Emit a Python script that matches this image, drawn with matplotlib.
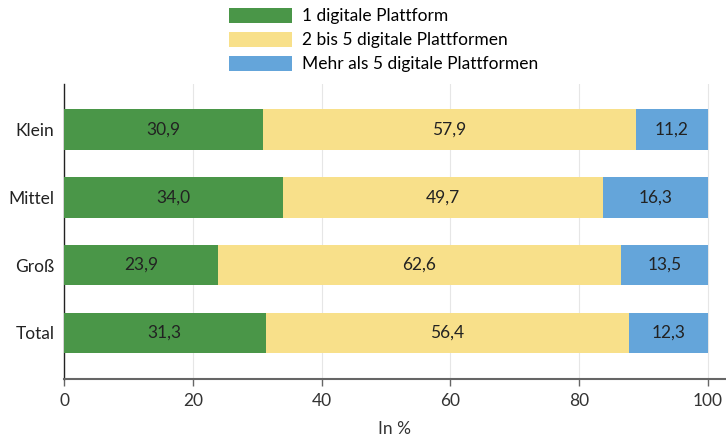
import matplotlib
matplotlib.use("Agg")
import matplotlib.pyplot as plt
import numpy as np

categories = ["Klein", "Mittel", "Groß", "Total"]
series_names = ["1 digitale Plattform", "2 bis 5 digitale Plattformen", "Mehr als 5 digitale Plattformen"]
s1 = [30.9, 34.0, 23.9, 31.3]
s2 = [57.9, 49.7, 62.6, 56.4]
s3 = [11.2, 16.3, 13.5, 12.3]
xticks = [0, 20, 40, 60, 80, 100]
colors = ["#4A9648", "#F8E08A", "#64A5DA"]

FS = 12.5
plt.rcParams['font.family'] = ['Lato', 'DejaVu Sans']
fig = plt.figure(figsize=(7.26, 4.41), dpi=100)
ax = fig.add_axes([64/726, 62/441, (726-64)/726, (379-84)/441])

y = np.arange(len(categories))
left = np.zeros(len(categories))
handles = []
for vals, name, c in zip([s1, s2, s3], series_names, colors):
    b = ax.barh(y, vals, left=left, height=0.6, color=c, label=name, zorder=3,
                linewidth=0)
    handles.append(b)
    for yi, l, v in zip(y, left, vals):
        ax.text(l + v/2, yi, f"{v:.1f}".replace(".", ","), ha="center", va="center",
                fontsize=FS, color="#222222", zorder=4)
    left = left + np.array(vals)

ax.set_ylim(3.68, -0.67)
ax.set_xlim(0, 102.8)
ax.set_yticks(y)
ax.set_yticklabels(categories, fontsize=FS, color="#222222")
ax.set_xticks(xticks)
ax.set_xticklabels([str(t) for t in xticks], fontsize=FS, color="#333333")
ax.tick_params(axis="y", length=0, pad=7)
ax.tick_params(axis="x", length=5, color="#666666", width=1, pad=5)
ax.grid(axis="x", color="#e6e6e6", linewidth=0.8, zorder=0)
for s in ["top", "right"]:
    ax.spines[s].set_visible(False)
ax.spines["left"].set_color("#222222")
ax.spines["left"].set_linewidth(1)
ax.spines["bottom"].set_color("#666666")
ax.spines["bottom"].set_linewidth(1.5)
ax.set_xlabel("In %", fontsize=FS, color="#333333", labelpad=9)

fig.legend(handles=handles, labels=series_names, loc="upper left",
           bbox_to_anchor=(229/726, 1 - 8/441), frameon=False, fontsize=FS,
           handlelength=3.62, handleheight=0.92, handletextpad=0.6,
           labelspacing=0.44, borderaxespad=0, borderpad=0)

fig.savefig("out.png", dpi=100)
